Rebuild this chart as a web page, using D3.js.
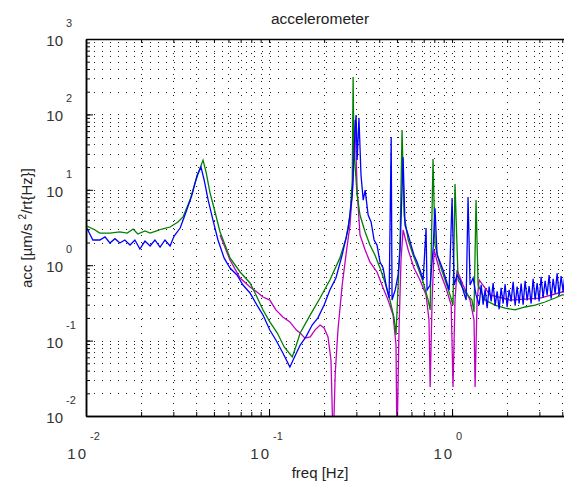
<!DOCTYPE html>
<html>
<head>
<meta charset="utf-8">
<script src="https://cdn.jsdelivr.net/npm/d3@7"></script>
<style>
  body { margin: 0; background: #fff; }
  svg { display: block; font-family: "Liberation Sans", Arial, sans-serif; }
</style>
</head>
<body>
<div id="chart"></div>
<script>
// series values: frequency [Hz] and acceleration
var blueFreq = [0.0101, 0.0109, 0.0119, 0.0127, 0.0135, 0.0144, 0.0153, 0.0163, 0.0174, 0.0185,
  0.0197, 0.0210, 0.0224, 0.0238, 0.0254, 0.0270, 0.0288, 0.0303, 0.0327, 0.0352,
  0.0379, 0.0405, 0.0425, 0.0442, 0.0465, 0.0494, 0.0526, 0.0568, 0.0612, 0.0668,
  0.0721, 0.0787, 0.0859, 0.0927, 0.101, 0.109, 0.119, 0.130, 0.137, 0.148,
  0.159, 0.172, 0.185, 0.200, 0.215, 0.232, 0.251, 0.271, 0.285, 0.295,
  0.299, 0.303, 0.310, 0.318, 0.327, 0.335, 0.348, 0.361, 0.375, 0.389,
  0.404, 0.420, 0.436, 0.453, 0.465, 0.470, 0.489, 0.507, 0.520, 0.540,
  0.553, 0.576, 0.597, 0.619, 0.644, 0.668, 0.695, 0.721, 0.730, 0.759,
  0.787, 0.807, 0.828, 0.859, 0.893, 0.927, 0.964, 1.000, 1.026, 1.065,
  1.106, 1.148, 1.194, 1.223, 1.254, 1.303, 1.352, 1.406,
  1.442, 1.478, 1.516, 1.555, 1.594, 1.635, 1.676, 1.719, 1.763, 1.808,
  1.854, 1.901, 1.949, 1.999, 2.050, 2.102, 2.156, 2.211, 2.267, 2.325,
  2.384, 2.445, 2.507, 2.571, 2.636, 2.704, 2.773, 2.843, 2.916, 2.990,
  3.066, 3.144, 3.224, 3.306, 3.391, 3.477, 3.566, 3.656, 3.750, 3.845,
  3.943, 4.043, 4.146, 4.252, 4.360, 4.471, 4.585, 4.702, 4.822, 4.945];
var blueAcc = [3.11, 2.16, 2.16, 2.37, 1.97, 2.25, 1.97, 2.16, 1.85, 2.16,
  1.64, 2.09, 1.80, 2.16, 1.74, 2.16, 1.80, 2.44, 3.11, 5.08,
  8.5, 15.7, 20.0, 13.5, 7.3, 3.97, 2.16, 1.25, 0.918, 0.741,
  0.546, 0.428, 0.296, 0.219, 0.138, 0.102, 0.0685, 0.0447, 0.0587, 0.0874,
  0.112, 0.161, 0.200, 0.296, 0.469, 0.676, 1.37, 3.11, 8.5, 62,
  98, 24.8, 89.6, 15.7, 7.3, 9.9, 4.63, 3.74, 2.16, 1.85,
  1.10, 0.918, 0.546, 0.367, 50, 0.345, 0.469, 0.741, 1.59, 27,
  3.41, 2.52, 1.85, 1.37, 1.10, 0.863, 0.637, 3.11, 0.469, 0.546,
  1.59, 5.7, 1.37, 1.10, 0.863, 0.637, 0.469, 7.8, 0.546, 0.741,
  0.637, 0.469, 0.345, 8.0, 0.546, 0.676, 0.403, 0.296,
  0.55, 0.30, 0.48, 0.27, 0.52, 0.33, 0.58, 0.29, 0.45, 0.26,
  0.50, 0.31, 0.56, 0.28, 0.47, 0.33, 0.60, 0.29, 0.52, 0.31,
  0.57, 0.30, 0.62, 0.34, 0.53, 0.31, 0.66, 0.35, 0.58, 0.33,
  0.70, 0.37, 0.62, 0.40, 0.74, 0.36, 0.66, 0.42, 0.78, 0.40,
  0.72, 0.44, 0.80, 0.45, 0.70, 0.48, 0.82, 0.46, 0.76, 0.50];

var greenFreq = [0.0101, 0.0112, 0.0119, 0.0135, 0.0153, 0.0168, 0.0181, 0.0192, 0.0210, 0.0224,
  0.0241, 0.0260, 0.0288, 0.0318, 0.0339, 0.0370, 0.0394, 0.0420, 0.0436, 0.0453,
  0.0476, 0.0507, 0.0540, 0.0575, 0.0612, 0.0695, 0.0787, 0.0849, 0.0927, 0.101,
  0.111, 0.121, 0.134, 0.141, 0.148, 0.168, 0.190, 0.215, 0.244, 0.264,
  0.277, 0.285, 0.288, 0.291, 0.303, 0.314, 0.335, 0.356, 0.379, 0.404,
  0.431, 0.458, 0.482, 0.494, 0.520, 0.533, 0.547, 0.576, 0.612, 0.652,
  0.695, 0.740, 0.759, 0.787, 0.807, 0.859, 0.916, 0.975, 1.012, 1.038,
  1.079, 1.178, 1.285, 1.318, 1.352, 1.387, 1.514, 1.718, 1.950, 2.208,
  2.506, 2.842, 3.221, 3.655, 3.99, 5.0];
var greenAcc = [3.31, 2.93, 2.67, 2.67, 2.76, 2.67, 3.02, 2.59, 2.84, 2.67,
  2.84, 3.02, 3.21, 3.74, 4.36, 7.3, 12.3, 19.5, 24.8, 17.2,
  9.1, 5.08, 2.76, 1.85, 1.25, 0.813, 0.581, 0.403, 0.255, 0.177,
  0.126, 0.0822, 0.0606, 0.0874, 0.126, 0.219, 0.367, 0.637, 1.25, 2.30,
  4.63, 13.5, 313, 33.7, 8.5, 4.63, 2.76, 1.85, 1.37, 0.918,
  0.581, 0.345, 0.200, 0.119, 2.16, 62, 4.63, 2.16, 1.37, 0.918,
  0.598, 0.345, 0.255, 25.6, 1.85, 1.01, 0.637, 0.403, 0.296, 11.9,
  0.637, 0.441, 0.345, 0.239, 7.3, 0.546, 0.345, 0.296, 0.270, 0.255,
  0.279, 0.296, 0.325, 0.367, 0.403, 0.42];

var magentaFreq = [0.0540, 0.0612, 0.0695, 0.0787, 0.0859, 0.0927, 0.101, 0.109, 0.119, 0.130,
  0.141, 0.148, 0.157, 0.168, 0.178, 0.190, 0.200, 0.210, 0.218, 0.224,
  0.230, 0.238, 0.251, 0.264, 0.277, 0.288, 0.295, 0.303, 0.314, 0.335,
  0.356, 0.389, 0.420, 0.447, 0.476, 0.494, 0.500, 0.513, 0.526, 0.540,
  0.576, 0.619, 0.668, 0.721, 0.748, 0.759, 0.778, 0.798, 0.859, 0.927,
  0.989, 1.012, 1.038, 1.065, 1.148, 1.254, 1.318, 1.336, 1.370, 1.406,
  1.613, 2.075, 3.027, 3.99, 5.0];
var magentaAcc = [2.52, 1.17, 0.676, 0.514, 0.441, 0.379, 0.345, 0.255, 0.206, 0.177,
  0.138, 0.126, 0.108, 0.112, 0.138, 0.161, 0.147, 0.112, 0.0553, 0.004,
  0.0372, 0.138, 0.546, 1.45, 3.41, 13.5, 84, 9.9, 2.52, 1.59,
  1.10, 0.813, 0.499, 0.345, 0.219, 0.0874, 0.004, 0.138, 1.17, 2.93,
  1.59, 0.918, 0.637, 0.403, 0.188, 0.0243, 0.345, 1.59, 0.813, 0.499,
  0.296, 0.0243, 0.345, 0.863, 0.546, 0.345, 0.188, 0.0243, 0.345, 0.637,
  0.403, 0.345, 0.367, 0.441, 0.45];

// decade tick labels
var xDecades = [0.01, 0.1, 1];
var xExponents = ["-2", "-1", "0"];
var yDecades = [0.01, 0.1, 1, 10, 100, 1000];
var yExponents = ["-2", "-1", "0", "1", "2", "3"];

var width = 564, height = 490;
var margin = {top: 39, left: 86};
var plotW = 494, plotH = 377;

var svg = d3.select('#chart')
    .append('svg')
    .attr('width', width)
    .attr('height', height);

var x = d3.scaleLog().domain([0.01, 5]).range([0, plotW]);
var y = d3.scaleLog().domain([0.01, 1000]).range([plotH, 0]);

svg.append('defs').append('clipPath').attr('id', 'plotclip')
    .append('rect').attr('width', plotW).attr('height', plotH);

var g = svg.append('g')
    .attr('transform', 'translate(' + margin.left + ',' + margin.top + ')');

// dotted grid
g.append('g').selectAll('line')
    .data(x.ticks())
  .enter().append('line')
    .attr('x1', function(d) { return Math.round(x(d)) + 0.5; })
    .attr('x2', function(d) { return Math.round(x(d)) + 0.5; })
    .attr('y1', 0).attr('y2', plotH)
    .attr('stroke', '#222').attr('stroke-dasharray', '1,6');

g.append('g').selectAll('line')
    .data(y.ticks())
  .enter().append('line')
    .attr('y1', function(d) { return Math.round(y(d)) + 0.5; })
    .attr('y2', function(d) { return Math.round(y(d)) + 0.5; })
    .attr('x1', 0).attr('x2', plotW)
    .attr('stroke', '#222').attr('stroke-dasharray', '1,7');

// series
var line = d3.line()
    .x(function(d) { return x(d[0]); })
    .y(function(d) { return y(d[1]); });

var series = [
    {f: magentaFreq, a: magentaAcc, color: '#bf00bf'},
    {f: greenFreq, a: greenAcc, color: '#008000'},
    {f: blueFreq, a: blueAcc, color: '#0000ff'}
];

g.append('g').attr('clip-path', 'url(#plotclip)')
    .selectAll('path')
    .data(series)
  .enter().append('path')
    .attr('fill', 'none')
    .attr('stroke', function(d) { return d.color; })
    .attr('stroke-width', 1.3)
    .attr('d', function(d) { return line(d.f.map(function(v, i) { return [v, d.a[i]]; })); });

// axes with inward ticks
function styleAxis(sel) {
    sel.selectAll('path').attr('stroke', '#000').attr('stroke-width', 1.5);
    sel.selectAll('line').attr('stroke', '#000');
}
g.append('g').attr('transform', 'translate(0,' + plotH + ')')
    .call(d3.axisBottom(x).tickValues(x.ticks()).tickSize(-4).tickSizeOuter(0).tickFormat(''))
    .call(styleAxis);
g.append('g').attr('transform', 'translate(0,' + plotH + ')')
    .call(d3.axisBottom(x).tickValues(xDecades).tickSize(-7).tickSizeOuter(0).tickFormat(''))
    .call(styleAxis);
g.append('g')
    .call(d3.axisTop(x).tickValues(x.ticks()).tickSize(-4).tickSizeOuter(0).tickFormat(''))
    .call(styleAxis);
g.append('g')
    .call(d3.axisLeft(y).tickValues(y.ticks()).tickSize(-4).tickSizeOuter(0).tickFormat(''))
    .call(styleAxis);
g.append('g')
    .call(d3.axisLeft(y).tickValues(yDecades).tickSize(-7).tickSizeOuter(0).tickFormat(''))
    .call(styleAxis);

// tick labels, 10 with raised exponent
var xl = g.append('g').attr('fill', '#333');
xDecades.forEach(function(d, i) {
    xl.append('text').attr('x', x(d) + 2).attr('y', plotH + 43)
        .attr('text-anchor', 'end').attr('font-size', 15).attr('letter-spacing', 2).text('10');
    xl.append('text').attr('x', x(d) + 4).attr('y', plotH + 24)
        .attr('font-size', 11).text(xExponents[i]);
});
var yl = g.append('g').attr('fill', '#333');
yDecades.forEach(function(d, i) {
    yl.append('text').attr('x', -23).attr('y', y(d) + 7)
        .attr('text-anchor', 'end').attr('font-size', 15).text('10');
    yl.append('text').attr('x', -20).attr('y', y(d) - 12)
        .attr('font-size', 11).text(yExponents[i]);
});

// titles
svg.append('text').attr('x', 320).attr('y', 24)
    .attr('text-anchor', 'middle').attr('font-size', 15.5).attr('fill', '#222')
    .text('accelerometer');
svg.append('text').attr('x', 320).attr('y', 478)
    .attr('text-anchor', 'middle').attr('font-size', 15).attr('fill', '#222')
    .text('freq [Hz]');
var yt = svg.append('text')
    .attr('transform', 'translate(32,228) rotate(-90)')
    .attr('text-anchor', 'middle').attr('font-size', 15).attr('fill', '#222');
yt.append('tspan').text('acc [\u00b5m/s ');
yt.append('tspan').attr('dy', -6).attr('font-size', 10).text('2');
yt.append('tspan').attr('dy', 6).text('/rt{Hz}]');
</script>
</body>
</html>
